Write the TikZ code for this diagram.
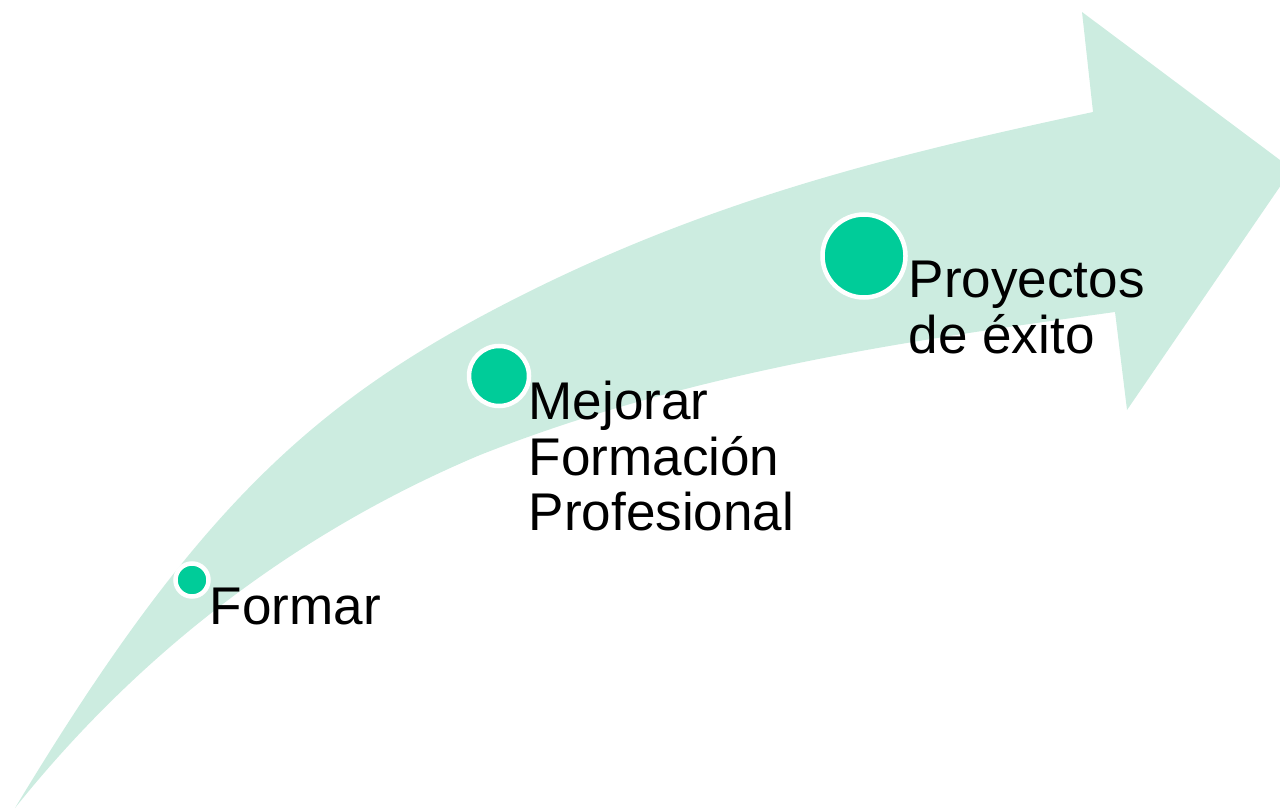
\documentclass[tikz,border=0pt]{standalone}
\usepackage{fontspec}
\setmainfont{Liberation Sans}
\usepackage{tikz}
\usetikzlibrary{calc,positioning}
\definecolor{bandgreen}{HTML}{CCECE0}
\definecolor{dotgreen}{HTML}{00CC99}

\begin{document}
\begin{tikzpicture}
             \tikzstyle{dot}=[circle,fill=dotgreen,draw=white,line width=0.045cm,inner sep=0pt]
             \tikzstyle{lbl}=[anchor=base west,inner sep=0pt,align=left,font=\fontsize{15.1}{15.65}\selectfont]
            \clip (0,0) rectangle (12.8,8.08);
            % curved band with arrow head
            \coordinate (tail) at (0.15,0);
            \fill [bandgreen] (tail)
              .. controls (1.85,2.82) and (3.0,3.94) .. (4.8,4.91)
              .. controls (6.9,6.04) and (8.83,6.51) .. (10.93,6.96)
              -- (10.82,7.96) -- (12.92,6.39) -- (11.27,3.98) -- (11.15,4.96)
              .. controls (9.05,4.67) and (6.9,4.36) .. (4.8,3.53)
              .. controls (2.9,2.73) and (1.35,1.5) .. (tail)
              -- cycle;
            % steps
            \node (d1) [dot, minimum size=0.33cm] at (1.92,2.28) {};
            \node (d2) [dot, minimum size=0.6cm] at (4.99,4.32) {};
            \node (d3) [dot, minimum size=0.83cm] at (8.64,5.52) {};
            \node (t1) [lbl] at (2.09,1.84) {Formar};
            \node (t2) [lbl] at (5.28,2.78) {Mejorar\\Formación\\Profesional};
            \node (t3) [lbl] at (9.08,4.55) {Proyectos\\de éxito};
         \end{tikzpicture}
\end{document}
